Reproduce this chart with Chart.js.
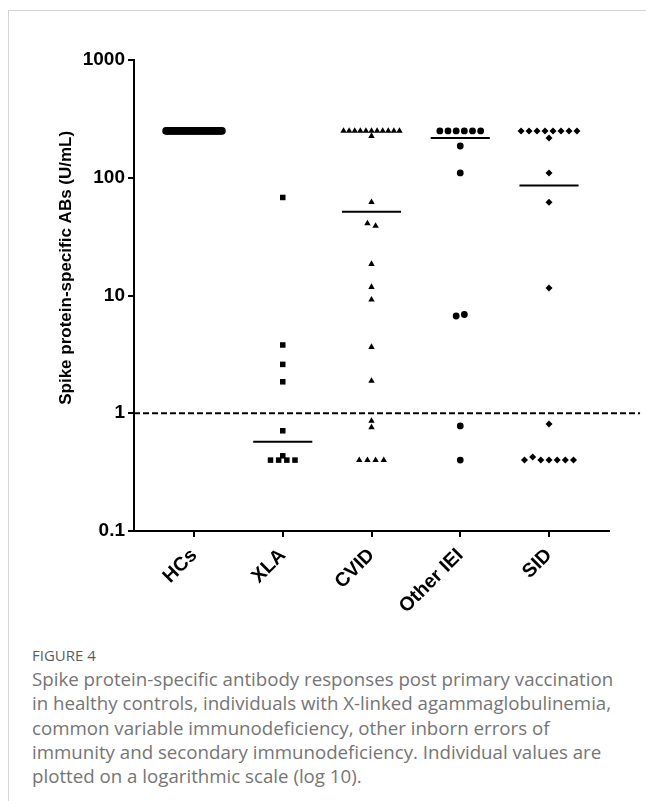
<!DOCTYPE html>
<html>
<head>
<meta charset="utf-8">
<script src="https://cdn.jsdelivr.net/npm/chart.js@4.4.0/dist/chart.umd.min.js"></script>
<style>
  html, body { margin: 0; padding: 0; background: #fff; }
  body { width: 646px; height: 801px; position: relative; overflow: hidden; }
  #frame { position: absolute; left: 8px; top: 10px; width: 660px; height: 820px;
           border-left: 1px solid #d4d4d4; border-top: 1px solid #d4d4d4; }
  #wrap { position: absolute; left: 0; top: 0; width: 646px; height: 640px; }
  #fig { position: absolute; left: 32px; top: 645px; font-family: "Open Sans", sans-serif;
         font-size: 15px; color: #5c5c5c; }
  #caption { position: absolute; left: 32px; top: 667px; width: 614px; font-family: "Open Sans", sans-serif;
             font-size: 18.7px; line-height: 24.3px; color: #757575; white-space: nowrap; }
</style>
</head>
<body>
<div id="frame"></div>
<div id="wrap"><canvas id="myChart" width="646" height="640"></canvas></div>
<div id="fig">FIGURE 4</div>
<div id="caption">Spike protein-specific antibody responses post primary vaccination<br>in healthy controls, individuals with X-linked agammaglobulinemia,<br>common variable immunodeficiency, other inborn errors of<br>immunity and secondary immunodeficiency. Individual values are<br>plotted on a logarithmic scale (log 10).</div>
<script>
const categories = ['HCs', 'XLA', 'CVID', 'Other IEI', 'SID'];
const hcsValues = [250, 250, 250, 250, 250, 250, 250, 250, 250, 250, 250, 250,
                   250, 250, 250, 250, 250, 250, 250, 250, 250, 250, 250, 250,
                   250, 250, 250, 250, 250, 250, 250, 250, 250, 250, 250, 250];
const xlaValues = [68, 3.8, 2.6, 1.85, 0.71, 0.4, 0.4, 0.435, 0.4, 0.4];
const cvidValues = [250, 250, 250, 250, 250, 250, 250, 250, 250, 250, 250, 226,
                    62, 41, 39, 18.5, 11.8, 9.2, 3.65, 1.88, 0.86, 0.76,
                    0.4, 0.4, 0.4, 0.4];
const otherIeiValues = [250, 250, 250, 250, 250, 250, 186, 110, 6.7, 6.9, 0.78, 0.4];
const sidValues = [250, 250, 250, 250, 250, 250, 250, 250, 218, 110, 62, 11.6, 0.81,
                   0.4, 0.425, 0.4, 0.4, 0.4, 0.4, 0.4];
const yTicks = [0.1, 1, 10, 100, 1000];
const cutoff = 1;
const yTitle = 'Spike protein-specific ABs (U/mL)';

const groups = [hcsValues, xlaValues, cvidValues, otherIeiValues, sidValues];
const shapes = ['circle', 'rect', 'triangle', 'circle', 'rectRot'];
const radii = [3.8, 3.9, 3.7, 3.4, 3.5];
const xMin = 0.324, xMax = 5.676;

function median(arr) {
    const s = arr.slice().sort((a, b) => a - b);
    const m = Math.floor(s.length / 2);
    return s.length % 2 ? s[m] : (s[m - 1] + s[m]) / 2;
}

// equal values get spread sideways, like a scatter dot plot
function spread(values, center) {
    const rows = [];
    values.forEach(v => {
        let row = rows.find(r => Math.abs(Math.log10(r.ref) - Math.log10(v)) < 0.03);
        if (!row) { row = { ref: v, items: [] }; rows.push(row); }
        row.items.push(v);
    });
    const pts = [];
    rows.forEach(r => {
        const n = r.items.length;
        const step = n > 1 ? Math.min(0.092, 0.63 / (n - 1)) : 0;
        r.items.forEach((v, i) => pts.push({ x: center + (i - (n - 1) / 2) * step, y: v }));
    });
    return pts;
}

window.onload = function () {
    Chart.defaults.font.family = '"Liberation Sans", Arial, sans-serif';

    const datasets = [];
    groups.forEach((vals, i) => {
        const c = i + 1;
        datasets.push({
            type: 'scatter',
            label: categories[i],
            data: spread(vals, c),
            pointStyle: shapes[i],
            pointRadius: radii[i],
            backgroundColor: '#000',
            borderColor: '#000',
            borderWidth: 0
        });
        const m = median(vals);
        datasets.push({
            type: 'line',
            label: categories[i] + ' median',
            data: [{ x: c - 0.333, y: m }, { x: c + 0.333, y: m }],
            borderColor: '#000',
            borderWidth: 2,
            pointRadius: 0
        });
    });
    datasets.push({
        type: 'line',
        label: 'cutoff',
        data: [{ x: xMin, y: cutoff }, { x: xMax + 0.35, y: cutoff }],
        borderColor: '#000',
        borderWidth: 2,
        borderDash: [6, 3],
        pointRadius: 0,
        clip: false
    });

    const options = {
        type: 'scatter',
        data: { datasets: datasets },
        options: {
            responsive: false,
            animation: false,
            layout: { padding: { top: 60, right: 37, left: 0, bottom: 0 } },
            plugins: { legend: { display: false }, tooltip: { enabled: false } },
            scales: {
                x: {
                    type: 'linear',
                    min: xMin,
                    max: xMax,
                    afterBuildTicks: axis => { axis.ticks = categories.map((c, i) => ({ value: i + 1 })); },
                    afterFit: axis => { axis.height = 109; },
                    ticks: {
                        callback: v => categories[v - 1] || '',
                        autoSkip: false,
                        minRotation: 45,
                        maxRotation: 45,
                        color: '#000',
                        padding: 7,
                        font: { size: 19.5, weight: 'bold' }
                    },
                    grid: { drawOnChartArea: false, tickLength: 6, color: '#000', lineWidth: 2 },
                    border: { color: '#000', width: 2 }
                },
                y: {
                    type: 'logarithmic',
                    min: 0.1,
                    max: 1000,
                    afterBuildTicks: axis => { axis.ticks = yTicks.map(v => ({ value: v })); },
                    afterFit: axis => { axis.width = 134; },
                    ticks: {
                        callback: v => String(v),
                        color: '#000',
                        padding: 3,
                        font: { size: 19, weight: 'bold' }
                    },
                    grid: { drawOnChartArea: false, tickLength: 6, color: '#000', lineWidth: 2 },
                    border: { color: '#000', width: 2 },
                    title: {
                        display: true,
                        // trailing spaces push the title down from the top of the axis
                        text: yTitle + '               ',
                        color: '#000',
                        align: 'end',
                        padding: { top: 56, bottom: 0 },
                        font: { size: 17, weight: 'bold' }
                    }
                }
            }
        }
    };
    const ctx = document.getElementById('myChart');
    new Chart(ctx, options);
};
</script>
</body>
</html>
